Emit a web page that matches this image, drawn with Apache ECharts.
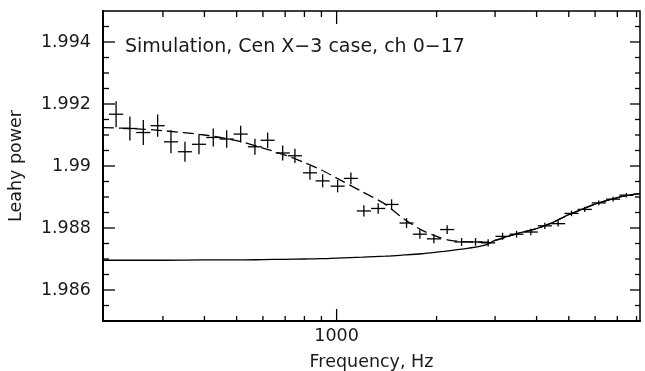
<!DOCTYPE html>
<html>
<head>
<meta charset="utf-8">
<script src="https://cdn.jsdelivr.net/npm/echarts@6/dist/echarts.min.js"></script>
<style>html,body{margin:0;padding:0;background:#fff}#c{width:645px;height:371px}</style>
</head>
<body>
<div id="c"></div>
<script>
// ---- data ----
const binFreq = [216.8,238.6,261.8,289.2,317.2,349.5,385.1,425.2,466.7,514.2,567.6,619.9,688.1,749.0,831.3,907.7,1007,1104,1208,1334,1464,1624,1781,1963,2152,2378,2620,2859,3159,3481,3843,4236,4644,5096,5587,6156,6799,7457];
const binPower = [1.99167,1.99121,1.99108,1.99130,1.99078,1.99046,1.99070,1.99092,1.99087,1.99103,1.99062,1.99083,1.99042,1.99033,1.98978,1.98952,1.98935,1.98960,1.98855,1.98863,1.98876,1.98816,1.98780,1.98765,1.98795,1.98755,1.98755,1.98752,1.98773,1.98780,1.98787,1.98807,1.98814,1.98847,1.98860,1.98881,1.98893,1.98906];
const binErr = [0.00042,0.00039,0.00040,0.00036,0.00037,0.00032,0.00032,0.00029,0.00028,0.00027,0.00026,0.00025,0.00024,0.00023,0.00022,0.00021,0.00020,0.00019,0.00018,0.00017,0.000165,0.00016,0.00015,0.000145,0.00014,0.00013,0.000125,0.00012,0.000115,0.00011,0.000105,0.00010,0.000095,0.00009,0.000085,0.00008,0.000075,0.00007];
const binHalfWidthFactor = 1.05;

const modelFreq = [198,250,300,400,500,600,700,800,900,1000,1200,1400,1600,1800,2000,2200,2500,2800,3000,3500,4000,4500,5000,5500,6000,7000,8000,8192];
const modelSolid = [1.98696,1.98696,1.98696,1.98697,1.98697,1.98698,1.98699,1.98700,1.98701,1.98703,1.98706,1.98709,1.98713,1.98717,1.98722,1.98727,1.98735,1.98745,1.98760,1.98782,1.98798,1.98819,1.98843,1.98861,1.98877,1.98898,1.98910,1.98911];
const modelDashed = [1.99124,1.99120,1.99114,1.99100,1.99082,1.99058,1.99035,1.99011,1.98987,1.98961,1.98916,1.98877,1.98828,1.98794,1.98773,1.98760,1.98755,1.98754,1.98760,1.98782,1.98798,1.98819,1.98843,1.98861,1.98877,1.98898,1.98910,1.98911];

const xMajorTicks = [1000];
const xMinorTicks = [300,400,500,600,700,800,900,2000,3000,4000,5000,6000,7000,8000];
const xLabels = {1000: '1000'};
const yMajorTicks = [1.986,1.988,1.99,1.992,1.994];
const yLabels = ['1.986','1.988','1.99','1.992','1.994'];
const yMinorTicks = [1.9855,1.9865,1.987,1.9875,1.9885,1.989,1.9895,1.9905,1.991,1.9915,1.9925,1.993,1.9935,1.9945];

const X_MIN = 198, X_MAX = 8192, Y_MIN = 1.985, Y_MAX = 1.995;
const INK = '#000', TEXT = '#1a1a1a';
const FONT = 'DejaVu Sans';

const chart = echarts.init(document.getElementById('c'), null, {renderer: 'canvas'});

const xTickData = xMajorTicks.map(f => [f, 1.99, 1]).concat(xMinorTicks.map(f => [f, 1.99, 0]));
const yTickData = yMajorTicks.map(v => [1000, v, 1]).concat(yMinorTicks.map(v => [1000, v, 0]));

function seg(x1, y1, x2, y2, w) {
  return {type: 'line', shape: {x1, y1, x2, y2}, style: {stroke: INK, lineWidth: w || 1.2}};
}

chart.setOption({
  animation: false,
  backgroundColor: '#fff',
  title: {
    text: 'Simulation, Cen X\u22123 case, ch 0\u221217',
    left: 125, top: 37, padding: 0,
    textStyle: {fontFamily: FONT, fontSize: 19, fontWeight: 'normal', color: TEXT, lineHeight: 20}
  },
  grid: {left: 103, right: 5, top: 11, bottom: 50, containLabel: false, outerBoundsMode: 'none',
         show: true, borderColor: INK, borderWidth: 1.5, backgroundColor: 'transparent'},
  xAxis: {
    type: 'log', logBase: 10, min: X_MIN, max: X_MAX,
    name: 'Frequency, Hz', nameLocation: 'middle', nameGap: 32,
    nameTextStyle: {fontFamily: FONT, fontSize: 17.5, color: TEXT},
    axisLine: {show: true, lineStyle: {color: INK, width: 2}},
    axisTick: {show: false}, splitLine: {show: false},
    axisLabel: {
      margin: 6, fontFamily: FONT, fontSize: 17.5, color: TEXT,
      showMinLabel: false, showMaxLabel: false,
      formatter: v => { const k = Object.keys(xLabels).find(t => Math.abs(+t - v) < 1); return k ? xLabels[k] : ''; }
    }
  },
  yAxis: {
    type: 'value', min: Y_MIN, max: Y_MAX, interval: 0.001,
    name: 'Leahy power', nameLocation: 'middle', nameGap: 78,
    nameTextStyle: {fontFamily: FONT, fontSize: 17.5, color: TEXT},
    axisLine: {show: true, lineStyle: {color: INK, width: 2}},
    axisTick: {show: false}, splitLine: {show: false},
    axisLabel: {
      margin: 12, fontFamily: FONT, fontSize: 17.5, color: TEXT,
      formatter: v => { const i = yMajorTicks.findIndex(t => Math.abs(t - v) < 1e-7); return i >= 0 ? yLabels[i] : ''; }
    }
  },
  series: [
    {
      type: 'line', name: 'model', data: modelFreq.map((f, i) => [f, modelSolid[i]]),
      showSymbol: false, smooth: 0.3, lineStyle: {color: INK, width: 1.3}, z: 3
    },
    {
      type: 'line', name: 'model+qpo', data: modelFreq.map((f, i) => [f, modelDashed[i]]),
      showSymbol: false, smooth: 0.3, lineStyle: {color: INK, width: 1.3, type: [11, 5]}, z: 3
    },
    {
      type: 'custom', name: 'bins',
      data: binFreq.map((f, i) => [f, binPower[i], binErr[i]]),
      encode: {x: 0, y: 1},
      renderItem: (params, api) => {
        const f = api.value(0), v = api.value(1), e = api.value(2);
        const c = api.coord([f, v]);
        const l = api.coord([f / binHalfWidthFactor, v]);
        const r = api.coord([f * binHalfWidthFactor, v]);
        const t = api.coord([f, v + e]);
        const b = api.coord([f, v - e]);
        return {type: 'group', children: [
          seg(l[0], c[1], r[0], c[1], 1.3),
          seg(c[0], t[1], c[0], b[1], 1.3)
        ]};
      }, z: 4
    },
    {
      type: 'custom', name: 'xticks', silent: true,
      data: xTickData, encode: {x: 0, y: 1},
      renderItem: (params, api) => {
        const cs = params.coordSys;
        const x = api.coord([api.value(0), Y_MIN])[0];
        const major = api.value(2) === 1;
        const bl = major ? 12 : 5, tl = major ? 13 : 6;
        const yb = cs.y + cs.height, yt = cs.y;
        return {type: 'group', children: [seg(x, yb, x, yb - bl, 1.3), seg(x, yt, x, yt + tl, 1.3)]};
      }, z: 2
    },
    {
      type: 'custom', name: 'yticks', silent: true,
      data: yTickData, encode: {x: 0, y: 1},
      renderItem: (params, api) => {
        const cs = params.coordSys;
        const y = api.coord([X_MIN, api.value(1)])[1];
        const major = api.value(2) === 1;
        const ll = major ? 12 : 6, rl = major ? 10 : 5;
        const xl = cs.x, xr = cs.x + cs.width;
        return {type: 'group', children: [seg(xl, y, xl + ll, y, 1.3), seg(xr, y, xr - rl, y, 1.3)]};
      }, z: 2
    }
  ]
});
</script>
</body>
</html>
